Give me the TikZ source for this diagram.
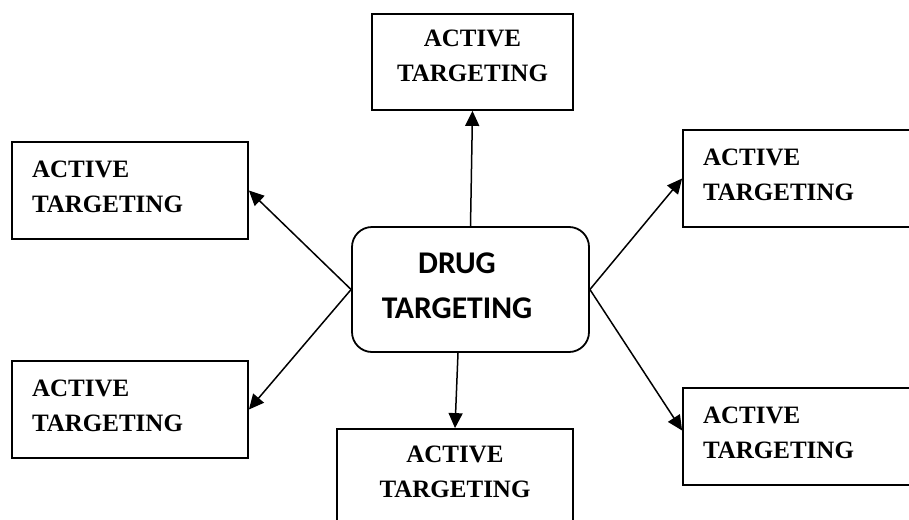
\documentclass[tikz,border=0pt]{standalone}
\usepackage{fontspec}
\setmainfont{Liberation Serif}
\newfontfamily\drugfont{Carlito}
\usetikzlibrary{arrows.meta}

\begin{document}
\begin{tikzpicture}[x=1pt,y=-1pt,
    target/.style={draw,line width=1.8pt,minimum width=236pt,minimum height=97pt,
      font=\bfseries\fontsize{25}{35}\selectfont},
    sidebox/.style={target,text width=196pt,inner xsep=20pt,align=left,text height=17pt,text depth=44pt},
    midbox/.style={target,align=center,text depth=12pt},
    link/.style={line width=1.5pt,-{Triangle[length=15pt,width=14pt]}}]
  \useasboundingbox (0,0) rectangle (909,519);
  \clip (0,0) rectangle (909,519);
  \node[draw,rounded corners=20pt,line width=1.8pt,minimum width=237pt,minimum height=125pt] (drug) at (470.5,289.5) {};
  \node[font=\drugfont\bfseries\fontsize{31.6}{45}\selectfont,align=center] (drugtext) at (457,285.5) {DRUG\\TARGETING};
  \node[midbox,minimum width=201pt,minimum height=96pt] (upact) at (472.5,62) {ACTIVE\\TARGETING};
  \node[midbox] (botact) at (455,477.5) {ACTIVE\\TARGETING};
  \node[sidebox] (ulact) at (130,190.5) {ACTIVE\\TARGETING};
  \node[sidebox] (llact) at (130,409.5) {ACTIVE\\TARGETING};
  \node[sidebox] (uract) at (801,178.5) {ACTIVE\\TARGETING};
  \node[sidebox] (lract) at (801,436.5) {ACTIVE\\TARGETING};
  \draw[link] (drug.north) -- (upact.south);
  \draw[link] ([xshift=-12.5pt]drug.south) -- (botact.north);
  \draw[link] (drug.west) -- (ulact.east);
  \draw[link] (drug.west) -- (llact.east);
  \draw[link] (drug.east) -- (uract.west);
  \draw[link] (drug.east) -- ([yshift=6pt]lract.west);
\end{tikzpicture}
\end{document}
